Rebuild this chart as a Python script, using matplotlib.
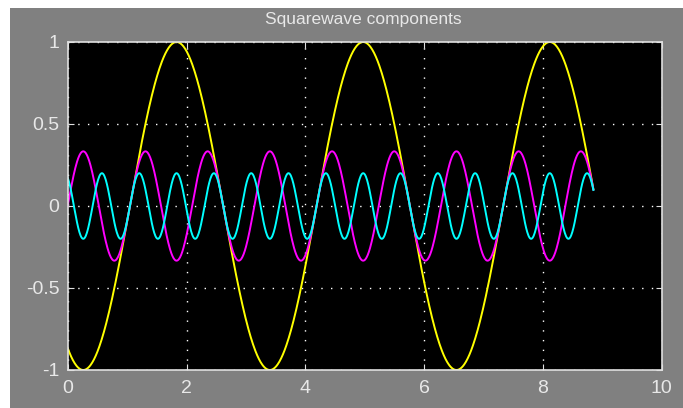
import numpy as np
import matplotlib
matplotlib.use("Agg")
import matplotlib.pyplot as plt
from matplotlib.patches import Rectangle
from matplotlib import font_manager

# harmonic components
t_end = 8.85
amplitudes = [1.0, 1 / 3, 1 / 5]
frequencies = [2.0, 6.0, 10.0]          # rad per unit time
phases = [-2 * np.pi / 3, -2 * np.pi, -10 * np.pi / 3]
colors = ['#ffff00', '#ff00ff', '#00ffff']

xticks = [0, 2, 4, 6, 8, 10]
yticks = [-1, -0.5, 0, 0.5, 1]
yticklabels = ['-1', '-0.5', '0', '0.5', '1']

names = {f.name for f in font_manager.fontManager.ttflist}
tick_font = 'Liberation Sans Narrow' if 'Liberation Sans Narrow' in names else 'Liberation Sans'

W, H = 683, 408
fig = plt.figure(figsize=(W / 100, H / 100), dpi=100)
fig.patch.set_facecolor('white')
# gray scope window with a white strip on top/left
fig.patches.append(Rectangle((10 / W, 0), 1, (H - 8) / H, transform=fig.transFigure,
                             facecolor='#808080', edgecolor='none', zorder=-10))

ax = fig.add_axes([67.7 / W, 1 - 370 / H, (661.7 - 67.7) / W, (370 - 42) / H])
ax.set_facecolor('black')

t = np.linspace(0, t_end, 900)
for a, f, p, c in zip(amplitudes, frequencies, phases, colors):
    ax.plot(t, a * np.sin(f * t + p), color=c, lw=1.4)

ax.set_xlim(0, 10)
ax.set_ylim(-1, 1)
ax.set_xticks(xticks)
ax.set_yticks(yticks)
ax.set_yticklabels(yticklabels)
ax.grid(True, color='white', linestyle=(0, (1, 6)), linewidth=1.0)
ax.tick_params(direction='in', colors='#e0e0e0', labelcolor='#e8e8e8', length=4,
               top=True, right=True, labelsize=14)
ax.tick_params(axis='x', pad=7)
ax.tick_params(axis='y', pad=6)
for s in ax.spines.values():
    s.set_color('#e0e0e0')
    s.set_linewidth(1.2)
for lab in ax.get_xticklabels() + ax.get_yticklabels():
    lab.set_family(tick_font)

ax.set_title('Squarewave components', color='#e8e8e8', fontsize=12.5,
             family='Liberation Sans', pad=13, x=0.498)

fig.savefig('out.png', dpi=100, facecolor=fig.get_facecolor())
